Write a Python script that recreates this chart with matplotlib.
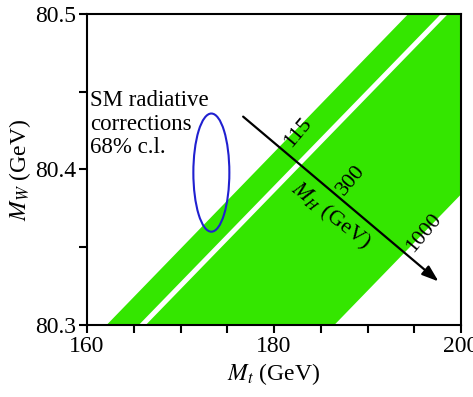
import matplotlib
matplotlib.use("Agg")
import matplotlib.pyplot as plt
from matplotlib.patches import Ellipse
import numpy as np

# ---- data ----
mt_edges = [160.0, 200.0]               # top-quark mass (GeV)
mw_band_upper = [80.287, 80.535]        # MH = 115 GeV edge
mw_band_lower = [80.136, 80.384]        # MH = 1000 GeV edge
mw_white_line = [80.2634, 80.511]       # white line inside band
ellipse_center = (173.3, 80.398)        # SM radiative corrections 68% c.l.
ellipse_size = (3.85, 0.076)
arrow_start = (176.7, 80.434)
arrow_end = (197.6, 80.328)
mh_labels = ["115", "300", "1000"]
mh_label_pos = [(182.6, 80.4235), (188.3, 80.393), (196.0, 80.359)]
x_major = [160, 180, 200]
x_minor = [165, 170, 175, 185, 190, 195]
y_major = [80.3, 80.4, 80.5]
y_minor = [80.35, 80.45]

plt.rcParams['font.family'] = ['Liberation Serif', 'DejaVu Serif']
plt.rcParams['mathtext.fontset'] = 'stix'

fig = plt.figure(figsize=(4.73, 3.97), dpi=100)
ax = fig.add_axes([87/473, 72/397, 374/473, 311/397])

green = '#34e600'
ax.fill_between(mt_edges, mw_band_lower, mw_band_upper, color=green, lw=0, zorder=1)
ax.plot(mt_edges, mw_white_line, color='white', lw=3.6, zorder=2, solid_capstyle='butt')

ell = Ellipse(ellipse_center, ellipse_size[0], ellipse_size[1], fill=False,
              edgecolor='#2020d0', lw=1.5, zorder=3)
ax.add_patch(ell)

ax.annotate('', xy=arrow_end, xytext=arrow_start,
            arrowprops=dict(arrowstyle='-|>,head_length=1.0,head_width=0.35',
                            color='black', lw=1.6, shrinkA=0, shrinkB=0), zorder=4)
for lab, pos in zip(mh_labels, mh_label_pos):
    ax.text(pos[0], pos[1], lab, rotation=50, ha='center', va='center',
            fontsize=16, rotation_mode='anchor', zorder=5)
ax.text(186.0, 80.370, r'$M_H$ (GeV)', rotation=-38, ha='center', va='center',
        fontsize=16, rotation_mode='anchor', zorder=5)

ax.text(0.008, 0.755, 'SM radiative\ncorrections\n68% c.l.', transform=ax.transAxes,
        ha='left', va='top', fontsize=16.5, linespacing=1.15)

ax.set_xlim(160, 200)
ax.set_ylim(80.3, 80.5)
ax.set_xticks(x_major)
ax.set_xticks(x_minor, minor=True)
ax.set_yticks(y_major)
ax.set_yticks(y_minor, minor=True)
ax.set_xticklabels([str(v) for v in x_major])
ax.set_yticklabels(['%.1f' % v for v in y_major])
ax.tick_params(which='both', direction='out', length=6, width=1.5, labelsize=17, pad=2,
               top=False, right=False)
for s in ax.spines.values():
    s.set_linewidth(1.5)
    s.set_zorder(6)

ax.set_xlabel(r'$M_t$ (GeV)', fontsize=17, labelpad=3)
ax.set_ylabel(r'$M_W$ (GeV)', fontsize=17, labelpad=1)

fig.savefig('out.png', dpi=100)
